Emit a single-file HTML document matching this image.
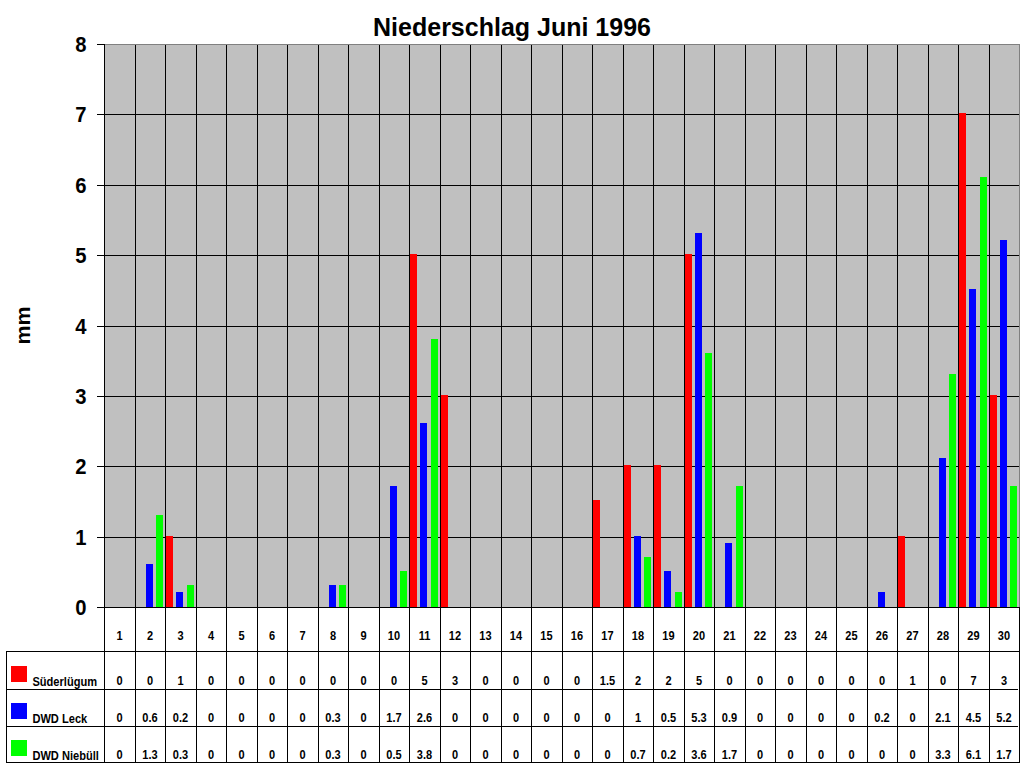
<!DOCTYPE html>
<html><head><meta charset="utf-8"><title>Niederschlag Juni 1996</title>
<style>
html,body{margin:0;padding:0;background:#fff;width:1024px;height:768px;overflow:hidden}
svg{display:block}
text{font-family:"Liberation Sans",sans-serif;font-weight:bold;fill:#000}
</style></head><body>
<svg width="1024" height="768" viewBox="0 0 1024 768">
<g shape-rendering="crispEdges">
<rect x="0" y="0" width="1024" height="768" fill="#fff"/>
<rect x="104" y="44" width="915" height="563" fill="#c0c0c0"/>
<rect x="104" y="44" width="916" height="1" fill="#808080"/>
<rect x="1019" y="44" width="1" height="563" fill="#808080"/>
<rect x="97" y="114" width="922" height="1" fill="#000"/>
<rect x="97" y="185" width="922" height="1" fill="#000"/>
<rect x="97" y="255" width="922" height="1" fill="#000"/>
<rect x="97" y="326" width="922" height="1" fill="#000"/>
<rect x="97" y="396" width="922" height="1" fill="#000"/>
<rect x="97" y="466" width="922" height="1" fill="#000"/>
<rect x="97" y="537" width="922" height="1" fill="#000"/>
<rect x="97" y="44" width="7" height="1" fill="#000"/>
<rect x="135" y="45" width="1" height="718" fill="#000"/>
<rect x="165" y="45" width="1" height="718" fill="#000"/>
<rect x="196" y="45" width="1" height="718" fill="#000"/>
<rect x="226" y="45" width="1" height="718" fill="#000"/>
<rect x="257" y="45" width="1" height="718" fill="#000"/>
<rect x="287" y="45" width="1" height="718" fill="#000"/>
<rect x="318" y="45" width="1" height="718" fill="#000"/>
<rect x="348" y="45" width="1" height="718" fill="#000"/>
<rect x="379" y="45" width="1" height="718" fill="#000"/>
<rect x="409" y="45" width="1" height="718" fill="#000"/>
<rect x="440" y="45" width="1" height="718" fill="#000"/>
<rect x="470" y="45" width="1" height="718" fill="#000"/>
<rect x="501" y="45" width="1" height="718" fill="#000"/>
<rect x="531" y="45" width="1" height="718" fill="#000"/>
<rect x="562" y="45" width="1" height="718" fill="#000"/>
<rect x="592" y="45" width="1" height="718" fill="#000"/>
<rect x="623" y="45" width="1" height="718" fill="#000"/>
<rect x="653" y="45" width="1" height="718" fill="#000"/>
<rect x="684" y="45" width="1" height="718" fill="#000"/>
<rect x="714" y="45" width="1" height="718" fill="#000"/>
<rect x="745" y="45" width="1" height="718" fill="#000"/>
<rect x="775" y="45" width="1" height="718" fill="#000"/>
<rect x="806" y="45" width="1" height="718" fill="#000"/>
<rect x="836" y="45" width="1" height="718" fill="#000"/>
<rect x="867" y="45" width="1" height="718" fill="#000"/>
<rect x="897" y="45" width="1" height="718" fill="#000"/>
<rect x="928" y="45" width="1" height="718" fill="#000"/>
<rect x="958" y="45" width="1" height="718" fill="#000"/>
<rect x="989" y="45" width="1" height="718" fill="#000"/>
<rect x="146" y="564" width="7" height="43" fill="#0000ff"/>
<rect x="156" y="515" width="7" height="92" fill="#00ff00"/>
<rect x="166" y="536" width="7" height="71" fill="#ff0000"/>
<rect x="176" y="592" width="7" height="15" fill="#0000ff"/>
<rect x="187" y="585" width="7" height="22" fill="#00ff00"/>
<rect x="329" y="585" width="7" height="22" fill="#0000ff"/>
<rect x="339" y="585" width="7" height="22" fill="#00ff00"/>
<rect x="390" y="486" width="7" height="121" fill="#0000ff"/>
<rect x="400" y="571" width="7" height="36" fill="#00ff00"/>
<rect x="410" y="254" width="7" height="353" fill="#ff0000"/>
<rect x="420" y="423" width="7" height="184" fill="#0000ff"/>
<rect x="431" y="339" width="7" height="268" fill="#00ff00"/>
<rect x="441" y="395" width="7" height="212" fill="#ff0000"/>
<rect x="593" y="500" width="7" height="107" fill="#ff0000"/>
<rect x="624" y="465" width="7" height="142" fill="#ff0000"/>
<rect x="634" y="536" width="7" height="71" fill="#0000ff"/>
<rect x="644" y="557" width="7" height="50" fill="#00ff00"/>
<rect x="654" y="465" width="7" height="142" fill="#ff0000"/>
<rect x="664" y="571" width="7" height="36" fill="#0000ff"/>
<rect x="675" y="592" width="7" height="15" fill="#00ff00"/>
<rect x="685" y="254" width="7" height="353" fill="#ff0000"/>
<rect x="695" y="233" width="7" height="374" fill="#0000ff"/>
<rect x="705" y="353" width="7" height="254" fill="#00ff00"/>
<rect x="725" y="543" width="7" height="64" fill="#0000ff"/>
<rect x="736" y="486" width="7" height="121" fill="#00ff00"/>
<rect x="878" y="592" width="7" height="15" fill="#0000ff"/>
<rect x="898" y="536" width="7" height="71" fill="#ff0000"/>
<rect x="939" y="458" width="7" height="149" fill="#0000ff"/>
<rect x="949" y="374" width="7" height="233" fill="#00ff00"/>
<rect x="959" y="113" width="7" height="494" fill="#ff0000"/>
<rect x="969" y="289" width="7" height="318" fill="#0000ff"/>
<rect x="980" y="177" width="7" height="430" fill="#00ff00"/>
<rect x="990" y="395" width="7" height="212" fill="#ff0000"/>
<rect x="1000" y="240" width="7" height="367" fill="#0000ff"/>
<rect x="1010" y="486" width="7" height="121" fill="#00ff00"/>
<rect x="104" y="44" width="1" height="719" fill="#000"/>
<rect x="97" y="607" width="923" height="1" fill="#000"/>
<rect x="1019" y="607" width="1" height="156" fill="#000"/>
<rect x="6" y="651" width="1" height="112" fill="#000"/>
<rect x="6" y="651" width="1014" height="1" fill="#000"/>
<rect x="6" y="689" width="1012" height="1" fill="#000"/>
<rect x="6" y="726" width="1012" height="1" fill="#000"/>
<rect x="6" y="762" width="1014" height="1" fill="#000"/>
<rect x="11" y="666" width="16" height="16" fill="#ff0000"/>
<rect x="11" y="703" width="16" height="16" fill="#0000ff"/>
<rect x="11" y="740" width="16" height="16" fill="#00ff00"/>
</g>
<g>
<text x="512" y="36" text-anchor="middle" font-size="25">Niederschlag Juni 1996</text>
<text transform="matrix(0.92,0,0,1,86.5,614.5)" text-anchor="end" font-size="22">0</text>
<text transform="matrix(0.92,0,0,1,86.5,544.5)" text-anchor="end" font-size="22">1</text>
<text transform="matrix(0.92,0,0,1,86.5,473.5)" text-anchor="end" font-size="22">2</text>
<text transform="matrix(0.92,0,0,1,86.5,403.5)" text-anchor="end" font-size="22">3</text>
<text transform="matrix(0.92,0,0,1,86.5,333.5)" text-anchor="end" font-size="22">4</text>
<text transform="matrix(0.92,0,0,1,86.5,262.5)" text-anchor="end" font-size="22">5</text>
<text transform="matrix(0.92,0,0,1,86.5,192.5)" text-anchor="end" font-size="22">6</text>
<text transform="matrix(0.92,0,0,1,86.5,121.5)" text-anchor="end" font-size="22">7</text>
<text transform="matrix(0.92,0,0,1,86.5,51.5)" text-anchor="end" font-size="22">8</text>
<text transform="translate(30.0,325.5) rotate(-90) scale(1,0.93)" text-anchor="middle" font-size="21.5">mm</text>
<text transform="matrix(0.92,0,0,1,119.5,640)" text-anchor="middle" font-size="12">1</text>
<text transform="matrix(0.92,0,0,1,119.5,685)" text-anchor="middle" font-size="12">0</text>
<text transform="matrix(0.92,0,0,1,119.5,722)" text-anchor="middle" font-size="12">0</text>
<text transform="matrix(0.92,0,0,1,119.5,759)" text-anchor="middle" font-size="12">0</text>
<text transform="matrix(0.92,0,0,1,150.0,640)" text-anchor="middle" font-size="12">2</text>
<text transform="matrix(0.92,0,0,1,150.0,685)" text-anchor="middle" font-size="12">0</text>
<text transform="matrix(0.92,0,0,1,150.0,722)" text-anchor="middle" font-size="12">0.6</text>
<text transform="matrix(0.92,0,0,1,150.0,759)" text-anchor="middle" font-size="12">1.3</text>
<text transform="matrix(0.92,0,0,1,180.5,640)" text-anchor="middle" font-size="12">3</text>
<text transform="matrix(0.92,0,0,1,180.5,685)" text-anchor="middle" font-size="12">1</text>
<text transform="matrix(0.92,0,0,1,180.5,722)" text-anchor="middle" font-size="12">0.2</text>
<text transform="matrix(0.92,0,0,1,180.5,759)" text-anchor="middle" font-size="12">0.3</text>
<text transform="matrix(0.92,0,0,1,211.0,640)" text-anchor="middle" font-size="12">4</text>
<text transform="matrix(0.92,0,0,1,211.0,685)" text-anchor="middle" font-size="12">0</text>
<text transform="matrix(0.92,0,0,1,211.0,722)" text-anchor="middle" font-size="12">0</text>
<text transform="matrix(0.92,0,0,1,211.0,759)" text-anchor="middle" font-size="12">0</text>
<text transform="matrix(0.92,0,0,1,241.5,640)" text-anchor="middle" font-size="12">5</text>
<text transform="matrix(0.92,0,0,1,241.5,685)" text-anchor="middle" font-size="12">0</text>
<text transform="matrix(0.92,0,0,1,241.5,722)" text-anchor="middle" font-size="12">0</text>
<text transform="matrix(0.92,0,0,1,241.5,759)" text-anchor="middle" font-size="12">0</text>
<text transform="matrix(0.92,0,0,1,272.0,640)" text-anchor="middle" font-size="12">6</text>
<text transform="matrix(0.92,0,0,1,272.0,685)" text-anchor="middle" font-size="12">0</text>
<text transform="matrix(0.92,0,0,1,272.0,722)" text-anchor="middle" font-size="12">0</text>
<text transform="matrix(0.92,0,0,1,272.0,759)" text-anchor="middle" font-size="12">0</text>
<text transform="matrix(0.92,0,0,1,302.5,640)" text-anchor="middle" font-size="12">7</text>
<text transform="matrix(0.92,0,0,1,302.5,685)" text-anchor="middle" font-size="12">0</text>
<text transform="matrix(0.92,0,0,1,302.5,722)" text-anchor="middle" font-size="12">0</text>
<text transform="matrix(0.92,0,0,1,302.5,759)" text-anchor="middle" font-size="12">0</text>
<text transform="matrix(0.92,0,0,1,333.0,640)" text-anchor="middle" font-size="12">8</text>
<text transform="matrix(0.92,0,0,1,333.0,685)" text-anchor="middle" font-size="12">0</text>
<text transform="matrix(0.92,0,0,1,333.0,722)" text-anchor="middle" font-size="12">0.3</text>
<text transform="matrix(0.92,0,0,1,333.0,759)" text-anchor="middle" font-size="12">0.3</text>
<text transform="matrix(0.92,0,0,1,363.5,640)" text-anchor="middle" font-size="12">9</text>
<text transform="matrix(0.92,0,0,1,363.5,685)" text-anchor="middle" font-size="12">0</text>
<text transform="matrix(0.92,0,0,1,363.5,722)" text-anchor="middle" font-size="12">0</text>
<text transform="matrix(0.92,0,0,1,363.5,759)" text-anchor="middle" font-size="12">0</text>
<text transform="matrix(0.92,0,0,1,394.0,640)" text-anchor="middle" font-size="12">10</text>
<text transform="matrix(0.92,0,0,1,394.0,685)" text-anchor="middle" font-size="12">0</text>
<text transform="matrix(0.92,0,0,1,394.0,722)" text-anchor="middle" font-size="12">1.7</text>
<text transform="matrix(0.92,0,0,1,394.0,759)" text-anchor="middle" font-size="12">0.5</text>
<text transform="matrix(0.92,0,0,1,424.5,640)" text-anchor="middle" font-size="12">11</text>
<text transform="matrix(0.92,0,0,1,424.5,685)" text-anchor="middle" font-size="12">5</text>
<text transform="matrix(0.92,0,0,1,424.5,722)" text-anchor="middle" font-size="12">2.6</text>
<text transform="matrix(0.92,0,0,1,424.5,759)" text-anchor="middle" font-size="12">3.8</text>
<text transform="matrix(0.92,0,0,1,455.0,640)" text-anchor="middle" font-size="12">12</text>
<text transform="matrix(0.92,0,0,1,455.0,685)" text-anchor="middle" font-size="12">3</text>
<text transform="matrix(0.92,0,0,1,455.0,722)" text-anchor="middle" font-size="12">0</text>
<text transform="matrix(0.92,0,0,1,455.0,759)" text-anchor="middle" font-size="12">0</text>
<text transform="matrix(0.92,0,0,1,485.5,640)" text-anchor="middle" font-size="12">13</text>
<text transform="matrix(0.92,0,0,1,485.5,685)" text-anchor="middle" font-size="12">0</text>
<text transform="matrix(0.92,0,0,1,485.5,722)" text-anchor="middle" font-size="12">0</text>
<text transform="matrix(0.92,0,0,1,485.5,759)" text-anchor="middle" font-size="12">0</text>
<text transform="matrix(0.92,0,0,1,516.0,640)" text-anchor="middle" font-size="12">14</text>
<text transform="matrix(0.92,0,0,1,516.0,685)" text-anchor="middle" font-size="12">0</text>
<text transform="matrix(0.92,0,0,1,516.0,722)" text-anchor="middle" font-size="12">0</text>
<text transform="matrix(0.92,0,0,1,516.0,759)" text-anchor="middle" font-size="12">0</text>
<text transform="matrix(0.92,0,0,1,546.5,640)" text-anchor="middle" font-size="12">15</text>
<text transform="matrix(0.92,0,0,1,546.5,685)" text-anchor="middle" font-size="12">0</text>
<text transform="matrix(0.92,0,0,1,546.5,722)" text-anchor="middle" font-size="12">0</text>
<text transform="matrix(0.92,0,0,1,546.5,759)" text-anchor="middle" font-size="12">0</text>
<text transform="matrix(0.92,0,0,1,577.0,640)" text-anchor="middle" font-size="12">16</text>
<text transform="matrix(0.92,0,0,1,577.0,685)" text-anchor="middle" font-size="12">0</text>
<text transform="matrix(0.92,0,0,1,577.0,722)" text-anchor="middle" font-size="12">0</text>
<text transform="matrix(0.92,0,0,1,577.0,759)" text-anchor="middle" font-size="12">0</text>
<text transform="matrix(0.92,0,0,1,607.5,640)" text-anchor="middle" font-size="12">17</text>
<text transform="matrix(0.92,0,0,1,607.5,685)" text-anchor="middle" font-size="12">1.5</text>
<text transform="matrix(0.92,0,0,1,607.5,722)" text-anchor="middle" font-size="12">0</text>
<text transform="matrix(0.92,0,0,1,607.5,759)" text-anchor="middle" font-size="12">0</text>
<text transform="matrix(0.92,0,0,1,638.0,640)" text-anchor="middle" font-size="12">18</text>
<text transform="matrix(0.92,0,0,1,638.0,685)" text-anchor="middle" font-size="12">2</text>
<text transform="matrix(0.92,0,0,1,638.0,722)" text-anchor="middle" font-size="12">1</text>
<text transform="matrix(0.92,0,0,1,638.0,759)" text-anchor="middle" font-size="12">0.7</text>
<text transform="matrix(0.92,0,0,1,668.5,640)" text-anchor="middle" font-size="12">19</text>
<text transform="matrix(0.92,0,0,1,668.5,685)" text-anchor="middle" font-size="12">2</text>
<text transform="matrix(0.92,0,0,1,668.5,722)" text-anchor="middle" font-size="12">0.5</text>
<text transform="matrix(0.92,0,0,1,668.5,759)" text-anchor="middle" font-size="12">0.2</text>
<text transform="matrix(0.92,0,0,1,699.0,640)" text-anchor="middle" font-size="12">20</text>
<text transform="matrix(0.92,0,0,1,699.0,685)" text-anchor="middle" font-size="12">5</text>
<text transform="matrix(0.92,0,0,1,699.0,722)" text-anchor="middle" font-size="12">5.3</text>
<text transform="matrix(0.92,0,0,1,699.0,759)" text-anchor="middle" font-size="12">3.6</text>
<text transform="matrix(0.92,0,0,1,729.5,640)" text-anchor="middle" font-size="12">21</text>
<text transform="matrix(0.92,0,0,1,729.5,685)" text-anchor="middle" font-size="12">0</text>
<text transform="matrix(0.92,0,0,1,729.5,722)" text-anchor="middle" font-size="12">0.9</text>
<text transform="matrix(0.92,0,0,1,729.5,759)" text-anchor="middle" font-size="12">1.7</text>
<text transform="matrix(0.92,0,0,1,760.0,640)" text-anchor="middle" font-size="12">22</text>
<text transform="matrix(0.92,0,0,1,760.0,685)" text-anchor="middle" font-size="12">0</text>
<text transform="matrix(0.92,0,0,1,760.0,722)" text-anchor="middle" font-size="12">0</text>
<text transform="matrix(0.92,0,0,1,760.0,759)" text-anchor="middle" font-size="12">0</text>
<text transform="matrix(0.92,0,0,1,790.5,640)" text-anchor="middle" font-size="12">23</text>
<text transform="matrix(0.92,0,0,1,790.5,685)" text-anchor="middle" font-size="12">0</text>
<text transform="matrix(0.92,0,0,1,790.5,722)" text-anchor="middle" font-size="12">0</text>
<text transform="matrix(0.92,0,0,1,790.5,759)" text-anchor="middle" font-size="12">0</text>
<text transform="matrix(0.92,0,0,1,821.0,640)" text-anchor="middle" font-size="12">24</text>
<text transform="matrix(0.92,0,0,1,821.0,685)" text-anchor="middle" font-size="12">0</text>
<text transform="matrix(0.92,0,0,1,821.0,722)" text-anchor="middle" font-size="12">0</text>
<text transform="matrix(0.92,0,0,1,821.0,759)" text-anchor="middle" font-size="12">0</text>
<text transform="matrix(0.92,0,0,1,851.5,640)" text-anchor="middle" font-size="12">25</text>
<text transform="matrix(0.92,0,0,1,851.5,685)" text-anchor="middle" font-size="12">0</text>
<text transform="matrix(0.92,0,0,1,851.5,722)" text-anchor="middle" font-size="12">0</text>
<text transform="matrix(0.92,0,0,1,851.5,759)" text-anchor="middle" font-size="12">0</text>
<text transform="matrix(0.92,0,0,1,882.0,640)" text-anchor="middle" font-size="12">26</text>
<text transform="matrix(0.92,0,0,1,882.0,685)" text-anchor="middle" font-size="12">0</text>
<text transform="matrix(0.92,0,0,1,882.0,722)" text-anchor="middle" font-size="12">0.2</text>
<text transform="matrix(0.92,0,0,1,882.0,759)" text-anchor="middle" font-size="12">0</text>
<text transform="matrix(0.92,0,0,1,912.5,640)" text-anchor="middle" font-size="12">27</text>
<text transform="matrix(0.92,0,0,1,912.5,685)" text-anchor="middle" font-size="12">1</text>
<text transform="matrix(0.92,0,0,1,912.5,722)" text-anchor="middle" font-size="12">0</text>
<text transform="matrix(0.92,0,0,1,912.5,759)" text-anchor="middle" font-size="12">0</text>
<text transform="matrix(0.92,0,0,1,943.0,640)" text-anchor="middle" font-size="12">28</text>
<text transform="matrix(0.92,0,0,1,943.0,685)" text-anchor="middle" font-size="12">0</text>
<text transform="matrix(0.92,0,0,1,943.0,722)" text-anchor="middle" font-size="12">2.1</text>
<text transform="matrix(0.92,0,0,1,943.0,759)" text-anchor="middle" font-size="12">3.3</text>
<text transform="matrix(0.92,0,0,1,973.5,640)" text-anchor="middle" font-size="12">29</text>
<text transform="matrix(0.92,0,0,1,973.5,685)" text-anchor="middle" font-size="12">7</text>
<text transform="matrix(0.92,0,0,1,973.5,722)" text-anchor="middle" font-size="12">4.5</text>
<text transform="matrix(0.92,0,0,1,973.5,759)" text-anchor="middle" font-size="12">6.1</text>
<text transform="matrix(0.92,0,0,1,1004.0,640)" text-anchor="middle" font-size="12">30</text>
<text transform="matrix(0.92,0,0,1,1004.0,685)" text-anchor="middle" font-size="12">3</text>
<text transform="matrix(0.92,0,0,1,1004.0,722)" text-anchor="middle" font-size="12">5.2</text>
<text transform="matrix(0.92,0,0,1,1004.0,759)" text-anchor="middle" font-size="12">1.7</text>
<text transform="matrix(0.925,0,0,1,32.4,686)" font-size="12">Süderlügum</text>
<text transform="matrix(0.925,0,0,1,32.4,723)" font-size="12">DWD Leck</text>
<text transform="matrix(0.925,0,0,1,32.4,760)" font-size="12">DWD Niebüll</text>
</g>
</svg>
</body></html>
